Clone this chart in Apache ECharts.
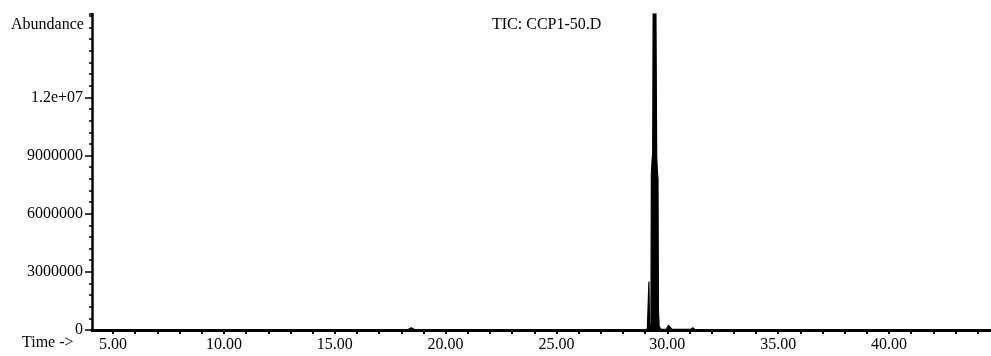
<!DOCTYPE html>
<html>
<head>
<meta charset="utf-8">
<script src="https://cdn.jsdelivr.net/npm/echarts@6/dist/echarts.min.js"></script>
<style>
  html, body { margin: 0; padding: 0; background: #fff; }
  #chart { width: 991px; height: 356px; }
</style>
</head>
<body>
<div id="chart"></div>
<script>
// retention time (min) and abundance
const times = [
  4.05, 12.0, 18.3, 18.45, 18.6, 25.0, 29.0, 29.1, 29.17, 29.2,
  29.26, 29.28, 29.31, 29.34, 29.37, 29.42, 29.48, 29.52, 29.55, 29.58,
  29.6, 29.63, 29.7, 29.95, 30.05, 30.12, 30.2, 31.05, 31.15, 31.25,
  38.0, 44.6
];
const abundance = [
  20000, 20000, 20000, 120000, 20000, 20000, 20000, 50000, 2500000, 150000,
  300000, 8000000, 8700000, 9100000, 20000000, 25000000, 18000000, 9000000, 8200000, 7800000,
  1000000, 200000, 50000, 30000, 250000, 220000, 40000, 30000, 120000, 30000,
  20000, 20000
];
const xTicks = [5, 6, 7, 8, 9, 10, 11, 12, 13, 14, 15, 16, 17, 18, 19, 20, 21, 22, 23, 24,
  25, 26, 27, 28, 29, 30, 31, 32, 33, 34, 35, 36, 37, 38, 39, 40, 41, 42, 43, 44];
const xLabels = [5, 10, 15, 20, 25, 30, 35, 40];
const yLabels = [0, 3000000, 6000000, 9000000, 12000000];

const font = 'Liberation Serif';
const chart = echarts.init(document.getElementById('chart'), null, { renderer: 'canvas' });

const yBase = {
  type: 'value',
  min: 0,
  max: 16300000,
  position: 'left',
  splitLine: { show: false },
};

chart.setOption({
  animation: false,
  backgroundColor: '#fff',
  grid: { left: 92, top: 14, right: 0, bottom: 26, containLabel: false },
  xAxis: {
    type: 'value',
    min: 4.05,
    max: 44.6,
    axisLine: { lineStyle: { color: '#000', width: 3 } },
    axisTick: { customValues: xTicks, length: 4, lineStyle: { color: '#000', width: 2 } },
    axisLabel: {
      customValues: xLabels,
      margin: 7,
      color: '#000',
      fontFamily: font,
      fontSize: 16,
      formatter: (v) => v.toFixed(2),
    },
    splitLine: { show: false },
  },
  yAxis: [
    {
      ...yBase,
      axisLine: { show: true, lineStyle: { color: '#000', width: 2.5 } },
      axisTick: { show: true, customValues: yLabels, length: 7, lineStyle: { color: '#000', width: 1.5 } },
      axisLabel: {
        customValues: yLabels,
        margin: 9,
        color: '#000',
        fontFamily: font,
        fontSize: 16,
        formatter: (v) => (v >= 10000000 ? (v / 10000000).toFixed(1) + 'e+07' : String(v)),
      },
    },
    {
      ...yBase,
      interval: 600000,
      axisLine: { show: false },
      axisTick: { show: true, length: 3, lineStyle: { color: '#000', width: 1.5 } },
      axisLabel: { show: false },
    },
  ],
  graphic: [
    { type: 'text', left: 11, top: 17, style: { text: 'Abundance', font: '16px "' + font + '"', fill: '#000' } },
    { type: 'text', left: 492, top: 17, style: { text: 'TIC: CCP1-50.D', font: '16px "' + font + '"', fill: '#000' } },
    { type: 'text', left: 22, top: 335, style: { text: 'Time ->', font: '16px "' + font + '"', fill: '#000' } },
  ],
  series: [
    {
      type: 'line',
      yAxisIndex: 0,
      data: times.map((t, i) => [t, abundance[i]]),
      showSymbol: false,
      clip: true,
      lineStyle: { color: '#000', width: 1.2 },
      areaStyle: { color: '#000', opacity: 1 },
    },
  ],
});
</script>
</body>
</html>
